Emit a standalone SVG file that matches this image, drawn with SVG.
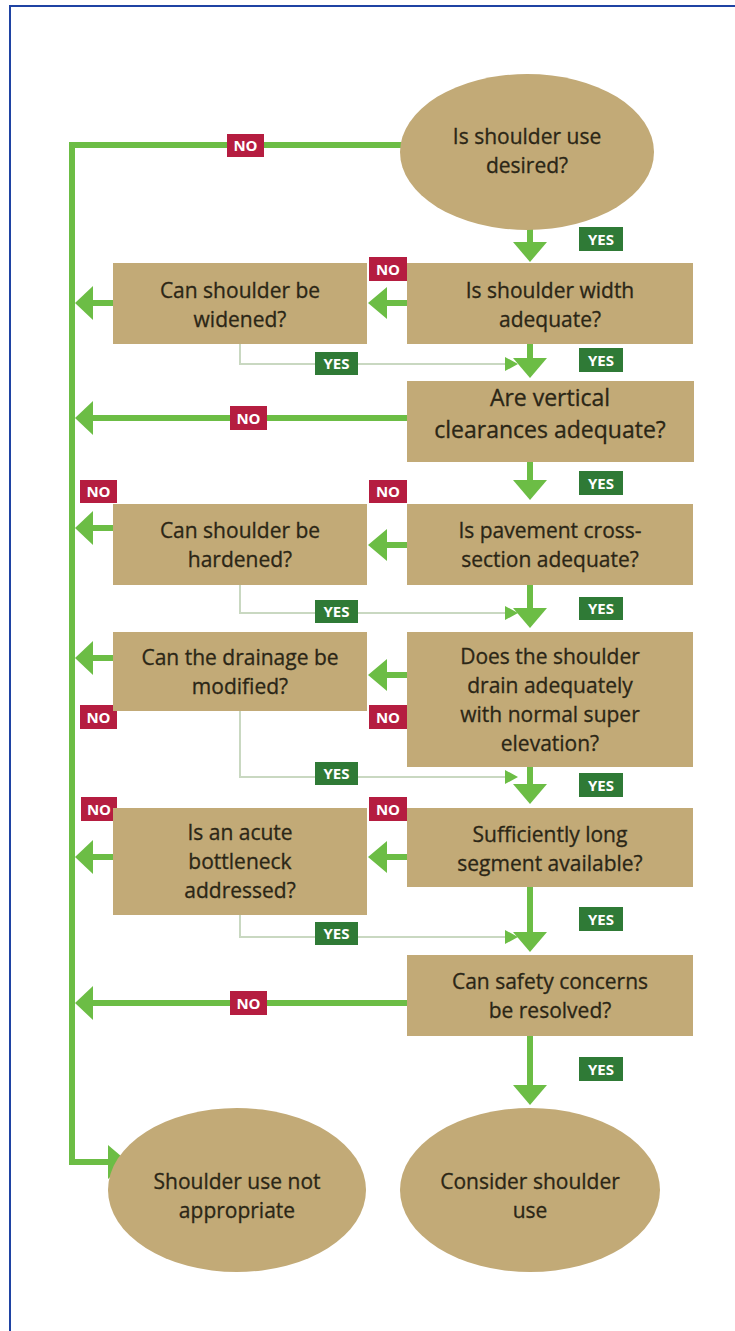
<svg xmlns="http://www.w3.org/2000/svg" width="735" height="1331" viewBox="0 0 735 1331">
<defs>
<style>
.node{fill:#c2aa77}
.t{font-family:"Open Sans","Noto Sans",sans-serif;font-size:21px;fill:#2b2616;stroke:#2b2616;stroke-width:0.3;text-anchor:middle}
.big{font-size:23px}
.main{stroke:#6cbd45;stroke-width:6;fill:none}
.thin{stroke:#c9d8c1;stroke-width:2;fill:none}
.head{fill:#6cbd45}
.no rect{fill:#b51d40}
.yes rect{fill:#2f7a36}
.lab{font-family:"Open Sans","Noto Sans",sans-serif;font-size:15px;font-weight:bold;fill:#ffffff;text-anchor:middle}
</style>
</defs>
<rect x="0" y="0" width="735" height="1331" fill="#ffffff"/>
<path d="M10 1331 V6 H735" fill="none" stroke="#1f43a3" stroke-width="2"/>

<g id="connectors">
<!-- main NO trunk -->
<path class="main" d="M404 145 H72 V1162 H112"/>
<polygon class="head" points="108,1145 128,1162 108,1179"/>
<!-- down arrows (yes path) -->
<path class="main" d="M530 229 V244"/><polygon class="head" points="513,242 547,242 530,262"/>
<path class="main" d="M530 344 V360"/><polygon class="head" points="513,358 547,358 530,378"/>
<path class="main" d="M530 462 V482"/><polygon class="head" points="513,480 547,480 530,500"/>
<path class="main" d="M530 585 V610"/><polygon class="head" points="513,608 547,608 530,628"/>
<path class="main" d="M530 767 V786"/><polygon class="head" points="513,784 547,784 530,804"/>
<path class="main" d="M530 887 V934"/><polygon class="head" points="513,932 547,932 530,952"/>
<path class="main" d="M530 1036 V1087"/><polygon class="head" points="513,1085 547,1085 530,1105"/>
<!-- right box -> left box -->
<path class="main" d="M407 303 H385"/><polygon class="head" points="387,287 387,319 368,303"/>
<path class="main" d="M407 545 H385"/><polygon class="head" points="387,529 387,561 368,545"/>
<path class="main" d="M407 675 H385"/><polygon class="head" points="387,659 387,691 368,675"/>
<path class="main" d="M407 857 H385"/><polygon class="head" points="387,841 387,873 368,857"/>
<!-- left box -> trunk -->
<path class="main" d="M113 303 H91"/><polygon class="head" points="93,286 93,320 75,303"/>
<path class="main" d="M113 528 H91"/><polygon class="head" points="93,511 93,545 75,528"/>
<path class="main" d="M113 658 H91"/><polygon class="head" points="93,641 93,675 75,658"/>
<path class="main" d="M113 857 H91"/><polygon class="head" points="93,840 93,874 75,857"/>
<!-- long NO arrows -->
<path class="main" d="M407 418 H91"/><polygon class="head" points="93,401 93,435 75,418"/>
<path class="main" d="M407 1003 H91"/><polygon class="head" points="93,986 93,1020 75,1003"/>
<!-- thin YES returns -->
<path class="thin" d="M240 344 V364 H508"/><polygon class="head" points="505,357 518,364 505,371"/>
<path class="thin" d="M240 585 V613 H508"/><polygon class="head" points="505,606 518,613 505,620"/>
<path class="thin" d="M240 711 V777 H508"/><polygon class="head" points="505,770 518,777 505,784"/>
<path class="thin" d="M240 915 V937 H508"/><polygon class="head" points="505,930 518,937 505,944"/>
</g>

<g id="labels">
<g class="no"><rect x="227" y="134" width="37" height="23"/><text class="lab" x="245.5" y="151">NO</text></g>
<g class="no"><rect x="369" y="257" width="38" height="24"/><text class="lab" x="388" y="274.5">NO</text></g>
<g class="no"><rect x="230" y="406" width="37" height="24"/><text class="lab" x="248.5" y="423.5">NO</text></g>
<g class="no"><rect x="80" y="480" width="37" height="23"/><text class="lab" x="98.5" y="497">NO</text></g>
<g class="no"><rect x="369" y="480" width="38" height="23"/><text class="lab" x="388" y="497">NO</text></g>
<g class="no"><rect x="80" y="705" width="37" height="24"/><text class="lab" x="98.5" y="722.5">NO</text></g>
<g class="no"><rect x="369" y="705" width="38" height="24"/><text class="lab" x="388" y="722.5">NO</text></g>
<g class="no"><rect x="81" y="797" width="36" height="24"/><text class="lab" x="99" y="814.5">NO</text></g>
<g class="no"><rect x="369" y="797" width="38" height="24"/><text class="lab" x="388" y="814.5">NO</text></g>
<g class="no"><rect x="230" y="991" width="37" height="24"/><text class="lab" x="248.5" y="1008.5">NO</text></g>
<g class="yes"><rect x="579" y="227" width="44" height="24"/><text class="lab" x="601" y="244.5">YES</text></g>
<g class="yes"><rect x="315" y="352" width="43" height="23"/><text class="lab" x="336.5" y="369">YES</text></g>
<g class="yes"><rect x="579" y="348" width="44" height="24"/><text class="lab" x="601" y="365.5">YES</text></g>
<g class="yes"><rect x="579" y="471" width="44" height="24"/><text class="lab" x="601" y="488.5">YES</text></g>
<g class="yes"><rect x="315" y="600" width="43" height="23"/><text class="lab" x="336.5" y="617">YES</text></g>
<g class="yes"><rect x="579" y="597" width="44" height="23"/><text class="lab" x="601" y="614">YES</text></g>
<g class="yes"><rect x="315" y="762" width="43" height="23"/><text class="lab" x="336.5" y="779">YES</text></g>
<g class="yes"><rect x="579" y="773" width="44" height="24"/><text class="lab" x="601" y="790.5">YES</text></g>
<g class="yes"><rect x="315" y="922" width="43" height="23"/><text class="lab" x="336.5" y="939">YES</text></g>
<g class="yes"><rect x="579" y="907" width="44" height="24"/><text class="lab" x="601" y="924.5">YES</text></g>
<g class="yes"><rect x="579" y="1057" width="44" height="24"/><text class="lab" x="601" y="1074.5">YES</text></g>
</g>

<g id="n-start"><ellipse class="node" cx="527" cy="152" rx="127" ry="78"/>
<text class="t" x="527" y="144">Is shoulder use</text><text class="t" x="527" y="173">desired?</text></g>

<g id="n-width"><rect class="node" x="407" y="263" width="286" height="81"/>
<text class="t" x="550" y="298">Is shoulder width</text><text class="t" x="550" y="327">adequate?</text></g>
<g id="n-widen"><rect class="node" x="113" y="263" width="254" height="81"/>
<text class="t" x="240" y="298">Can shoulder be</text><text class="t" x="240" y="327">widened?</text></g>

<g id="n-vertical"><rect class="node" x="407" y="381" width="287" height="81"/>
<text class="t big" x="550" y="406">Are vertical</text><text class="t big" x="550" y="438">clearances adequate?</text></g>

<g id="n-pavement"><rect class="node" x="407" y="504" width="286" height="81"/>
<text class="t" x="550" y="538">Is pavement cross-</text><text class="t" x="550" y="567">section adequate?</text></g>
<g id="n-harden"><rect class="node" x="113" y="504" width="254" height="81"/>
<text class="t" x="240" y="538">Can shoulder be</text><text class="t" x="240" y="567">hardened?</text></g>

<g id="n-drain"><rect class="node" x="407" y="632" width="286" height="135"/>
<text class="t" x="550" y="664">Does the shoulder</text><text class="t" x="550" y="693">drain adequately</text>
<text class="t" x="550" y="722">with normal super</text><text class="t" x="550" y="751">elevation?</text></g>
<g id="n-drainage"><rect class="node" x="113" y="632" width="254" height="79"/>
<text class="t" x="240" y="665">Can the drainage be</text><text class="t" x="240" y="694">modified?</text></g>

<g id="n-segment"><rect class="node" x="407" y="808" width="286" height="79"/>
<text class="t" x="550" y="842">Sufficiently long</text><text class="t" x="550" y="871">segment available?</text></g>
<g id="n-bottleneck"><rect class="node" x="113" y="808" width="254" height="107"/>
<text class="t" x="240" y="840">Is an acute</text><text class="t" x="240" y="869">bottleneck</text><text class="t" x="240" y="898">addressed?</text></g>

<g id="n-safety"><rect class="node" x="407" y="955" width="286" height="81"/>
<text class="t" x="550" y="989">Can safety concerns</text><text class="t" x="550" y="1018">be resolved?</text></g>

<g id="n-not"><ellipse class="node" cx="237" cy="1190" rx="129" ry="82"/>
<text class="t" x="237" y="1189">Shoulder use not</text><text class="t" x="237" y="1218">appropriate</text></g>
<g id="n-consider"><ellipse class="node" cx="530" cy="1190" rx="130" ry="82"/>
<text class="t" x="530" y="1189">Consider shoulder</text><text class="t" x="530" y="1218">use</text></g>
</svg>
